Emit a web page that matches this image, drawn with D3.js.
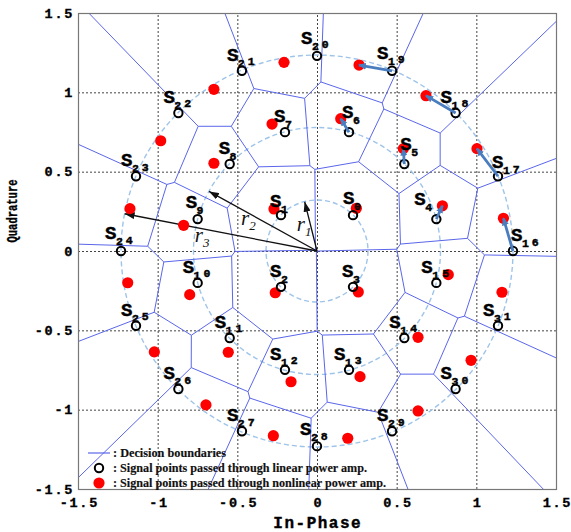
<!DOCTYPE html>
<html>
<head>
<meta charset="utf-8">
<script src="https://cdn.jsdelivr.net/npm/d3@7"></script>
<style>
  body { margin: 0; background: #fff; }
  svg { display: block; }
</style>
</head>
<body>
<svg id="chart" width="571" height="532"></svg>
<script>
// 32-point constellation: S0..S3 on ring 1, S4..S15 on ring 2, S16..S31 on ring 3
const pointIds = ["0","1","2","3","4","5","6","7","8","9","10","11","12","13","14","15",
                  "16","17","18","19","20","21","22","23","24","25","26","27","28","29","30","31"];

// Signal points through the linear power amplifier (in-phase, quadrature)
const linearI = [ 0.226, -0.226, -0.226,  0.226,
                  0.749,  0.548,  0.201, -0.201, -0.548, -0.749, -0.749, -0.548, -0.201,  0.201,  0.548,  0.749,
                  1.230,  1.136,  0.870,  0.471,  0.000, -0.471, -0.870, -1.136, -1.230, -1.136, -0.870, -0.471,  0.000,  0.471,  0.870,  1.136];
const linearQ = [ 0.226,  0.226, -0.226, -0.226,
                  0.201,  0.548,  0.749,  0.749,  0.548,  0.201, -0.201, -0.548, -0.749, -0.749, -0.548, -0.201,
                  0.000,  0.471,  0.870,  1.136,  1.230,  1.136,  0.870,  0.471,  0.000, -0.471, -0.870, -1.136, -1.230, -1.136, -0.870, -0.471];

// Signal points through the nonlinear power amplifier
const nonlinI = [ 0.247, -0.270, -0.262,  0.259,
                  0.787,  0.542,  0.149, -0.282, -0.647, -0.837, -0.799, -0.557, -0.163,  0.270,  0.634,  0.824,
                  1.170,  1.004,  0.684,  0.264, -0.207, -0.647, -0.981, -1.174, -1.188, -1.021, -0.697, -0.274,  0.193,  0.634,  0.967,  1.161];
const nonlinQ = [ 0.269,  0.265, -0.263, -0.258,
                  0.285,  0.645,  0.834,  0.800,  0.553,  0.162, -0.275, -0.638, -0.824, -0.792, -0.544, -0.149,
                  0.206,  0.645,  0.979,  1.172,  1.189,  1.019,  0.695,  0.267, -0.200, -0.636, -0.970, -1.164, -1.180, -1.008, -0.689, -0.260];

// Ring radii r1, r2, r3 and the direction of the arrow marking each radius (degrees)
const ringRadii = [0.32, 0.775, 1.23];
const ringArrowAngles = [104, 151, 169];
const ringNames = ["1", "2", "3"];

// Points whose AM/PM displacement is marked with an arrow
const displacedPoints = [4, 5, 6, 16, 17, 18, 19];

const xTicks = [-1.5, -1, -0.5, 0, 0.5, 1, 1.5];
const yTicks = [-1.5, -1, -0.5, 0, 0.5, 1, 1.5];
const gridValues = [-1, -0.5, 0, 0.5, 1];
const xTitle = "In-Phase";
const yTitle = "Quadrature";
const legendTexts = [": Decision boundaries",
                     ": Signal points passed through linear power amp.",
                     ": Signal points passed through nonlinear power amp."];

// ---------------------------------------------------------------------------
const plot = { left: 78, right: 556, top: 13, bottom: 489 };
const monoFont = "'Liberation Mono', 'Courier New', monospace";
const serifFont = "'Liberation Serif', 'Times New Roman', serif";

const svg = d3.select("#chart");
const x = d3.scaleLinear().domain([-1.5, 1.5]).range([plot.left, plot.right]);
const y = d3.scaleLinear().domain([-1.5, 1.5]).range([plot.bottom, plot.top]);

const defs = svg.append("defs");
defs.append("marker").attr("id", "headBlack")
  .attr("markerUnits", "userSpaceOnUse")
  .attr("viewBox", "0 0 10 7").attr("markerWidth", 10).attr("markerHeight", 7)
  .attr("refX", 10).attr("refY", 3.5).attr("orient", "auto")
  .append("path").attr("d", "M0,0 L10,3.5 L0,7 Z").attr("fill", "#111");
defs.append("marker").attr("id", "headBlue")
  .attr("markerUnits", "userSpaceOnUse")
  .attr("viewBox", "0 0 8 7").attr("markerWidth", 8).attr("markerHeight", 7)
  .attr("refX", 7).attr("refY", 3.5).attr("orient", "auto")
  .append("path").attr("d", "M0,0 L8,3.5 L0,7 Z").attr("fill", "#4a7cc0");

// Dotted grid
const grid = svg.append("g").attr("stroke", "#444").attr("stroke-width", 1)
  .attr("stroke-dasharray", "2,2");
grid.selectAll("line.v").data(gridValues).join("line").attr("class", "v")
  .attr("x1", d => x(d) + 0.5).attr("x2", d => x(d) + 0.5)
  .attr("y1", y(-1.5)).attr("y2", y(1.5));
grid.selectAll("line.h").data(gridValues).join("line").attr("class", "h")
  .attr("y1", d => y(d) + 0.5).attr("y2", d => y(d) + 0.5)
  .attr("x1", x(-1.5)).attr("x2", x(1.5));

// Dashed rings
svg.append("g").selectAll("circle").data(ringRadii).join("circle")
  .attr("cx", x(0)).attr("cy", y(0))
  .attr("r", d => x(d) - x(0))
  .attr("fill", "none").attr("stroke", "#9ec4ea").attr("stroke-width", 1.4)
  .attr("stroke-dasharray", "5,3");

// Decision boundaries: Voronoi cells of the received (nonlinear) points
const recvPx = nonlinI.map((v, i) => [x(v), y(nonlinQ[i])]);
const voronoi = d3.Delaunay.from(recvPx).voronoi([plot.left, plot.top, plot.right, plot.bottom]);
svg.append("path").attr("d", voronoi.render())
  .attr("fill", "none").attr("stroke", "#5a66ea").attr("stroke-width", 1);

// Radius arrows r1, r2, r3
const ringGroup = svg.append("g");
ringRadii.forEach((r, k) => {
  const a = ringArrowAngles[k] * Math.PI / 180;
  const ex = x(r * Math.cos(a)), ey = y(r * Math.sin(a));
  ringGroup.append("line")
    .attr("x1", x(0)).attr("y1", y(0)).attr("x2", ex).attr("y2", ey)
    .attr("stroke", "#111").attr("stroke-width", 1.3)
    .attr("marker-end", "url(#headBlack)");
});
const ringLabelOffset = [[-14, 5], [-22, 4], [-26, 10]];
ringRadii.forEach((r, k) => {
  const a = ringArrowAngles[k] * Math.PI / 180;
  const mx = (x(0) + x(r * Math.cos(a))) / 2, my = (y(0) + y(r * Math.sin(a))) / 2;
  const t = ringGroup.append("text")
    .attr("x", mx + ringLabelOffset[k][0]).attr("y", my + ringLabelOffset[k][1])
    .attr("font-family", serifFont).attr("font-style", "italic").attr("fill", "#111");
  t.append("tspan").attr("font-size", 21).text("r");
  t.append("tspan").attr("font-size", 13).attr("dy", 5).text(ringNames[k]);
});

// Nonlinear points (red)
svg.append("g").selectAll("circle").data(nonlinI).join("circle")
  .attr("cx", d => x(d)).attr("cy", (d, i) => y(nonlinQ[i]))
  .attr("r", 5.6).attr("fill", "#ff0000");

// Linear points (open black circles)
svg.append("g").selectAll("circle").data(linearI).join("circle")
  .attr("cx", d => x(d)).attr("cy", (d, i) => y(linearQ[i]))
  .attr("r", 4.2).attr("fill", "none").attr("stroke", "#000").attr("stroke-width", 2);

// Displacement arrows from linear to nonlinear positions
svg.append("g").selectAll("line").data(displacedPoints).join("line")
  .attr("x1", i => x(linearI[i])).attr("y1", i => y(linearQ[i]))
  .attr("x2", i => x(nonlinI[i])).attr("y2", i => y(nonlinQ[i]))
  .attr("stroke", "#4a7cc0").attr("stroke-width", 2.8)
  .attr("marker-end", "url(#headBlue)");

// Point labels S_k
const defaultLabelOffset = [-14, -10];
const labelOffset = {
  0: [-9, -11], 1: [-10, -8], 2: [-10, -10], 3: [-10, -10],
  4: [-21, -14], 5: [-3, -14], 6: [-6, -14], 7: [-10, -10], 8: [-10, -10], 9: [-11, -11],
  16: [-1, -10], 17: [-5, -8], 19: [-14, -12], 20: [-15, -12], 24: [-15, -12], 28: [-16, -11]
};
const labels = svg.append("g").attr("font-family", monoFont).attr("font-weight", "bold")
  .attr("fill", "#000").attr("stroke", "#000").attr("stroke-width", 0.45);
pointIds.forEach((id, i) => {
  const off = labelOffset[i] || defaultLabelOffset;
  const t = labels.append("text")
    .attr("x", x(linearI[i]) + off[0] - 1)
    .attr("y", y(linearQ[i]) + off[1]);
  t.append("tspan").attr("font-size", 19).text("S");
  const digits = id.split("");
  t.append("tspan").attr("font-size", 11.5).attr("dy", 6).attr("dx", -0.5).text(digits[0]);
  if (digits.length > 1) {
    t.append("tspan").attr("font-size", 11.5).attr("dy", -1.5).attr("dx", 3).text(digits[1]);
  }
});

// Frame
svg.append("rect")
  .attr("x", plot.left + 0.5).attr("y", plot.top + 0.5)
  .attr("width", plot.right - plot.left).attr("height", plot.bottom - plot.top)
  .attr("fill", "none").attr("stroke", "#777").attr("stroke-width", 1.2);

// Axes
const fmt = d => String(d);
const xAxis = svg.append("g").attr("transform", `translate(0,${plot.bottom})`)
  .call(d3.axisBottom(x).tickValues(xTicks).tickSize(0).tickPadding(8).tickFormat(fmt));
const yAxis = svg.append("g").attr("transform", `translate(${plot.left},0)`)
  .call(d3.axisLeft(y).tickValues(yTicks).tickSize(0).tickPadding(4).tickFormat(fmt));
[xAxis, yAxis].forEach(g => {
  g.select(".domain").remove();
  g.selectAll("text")
    .attr("font-family", monoFont).attr("font-weight", "bold")
    .attr("font-size", 13.5).attr("letter-spacing", 1.7).attr("fill", "#000")
    .attr("stroke", "#000").attr("stroke-width", 0.35);
});
xAxis.selectAll("text").attr("dx", "0.85px");

svg.append("text")
  .attr("x", x(0) + 0.75).attr("y", 528).attr("text-anchor", "middle")
  .attr("font-family", monoFont).attr("font-weight", "bold").attr("font-size", 16)
  .attr("letter-spacing", 1.5)
  .attr("fill", "#000").attr("stroke", "#000").attr("stroke-width", 0.4).text(xTitle);
svg.append("text")
  .attr("transform", "translate(17,211) rotate(-90)").attr("text-anchor", "middle")
  .attr("font-family", monoFont).attr("font-weight", "bold").attr("font-size", 14.5)
  .attr("textLength", 63).attr("lengthAdjust", "spacingAndGlyphs")
  .attr("fill", "#000").attr("stroke", "#000").attr("stroke-width", 0.35).text(yTitle);

// Legend
const lg = svg.append("g");
const lgX = 99, lgRows = [453, 468, 483], lgWidths = [113, 254, 273];
lg.append("line").attr("x1", lgX - 11).attr("x2", lgX + 11)
  .attr("y1", lgRows[0]).attr("y2", lgRows[0])
  .attr("stroke", "#5a66ea").attr("stroke-width", 1.2);
lg.append("circle").attr("cx", lgX).attr("cy", lgRows[1]).attr("r", 4.2)
  .attr("fill", "none").attr("stroke", "#000").attr("stroke-width", 2);
lg.append("circle").attr("cx", lgX).attr("cy", lgRows[2]).attr("r", 5.6).attr("fill", "#ff0000");
lg.selectAll("text").data(legendTexts).join("text")
  .attr("x", lgX + 14).attr("y", (d, i) => lgRows[i] + 4)
  .attr("font-family", serifFont).attr("font-weight", "bold").attr("font-size", 12.5)
  .attr("textLength", (d, i) => lgWidths[i]).attr("lengthAdjust", "spacingAndGlyphs")
  .attr("fill", "#111").attr("stroke", "#111").attr("stroke-width", 0.15).text(d => d);
</script>
</body>
</html>
